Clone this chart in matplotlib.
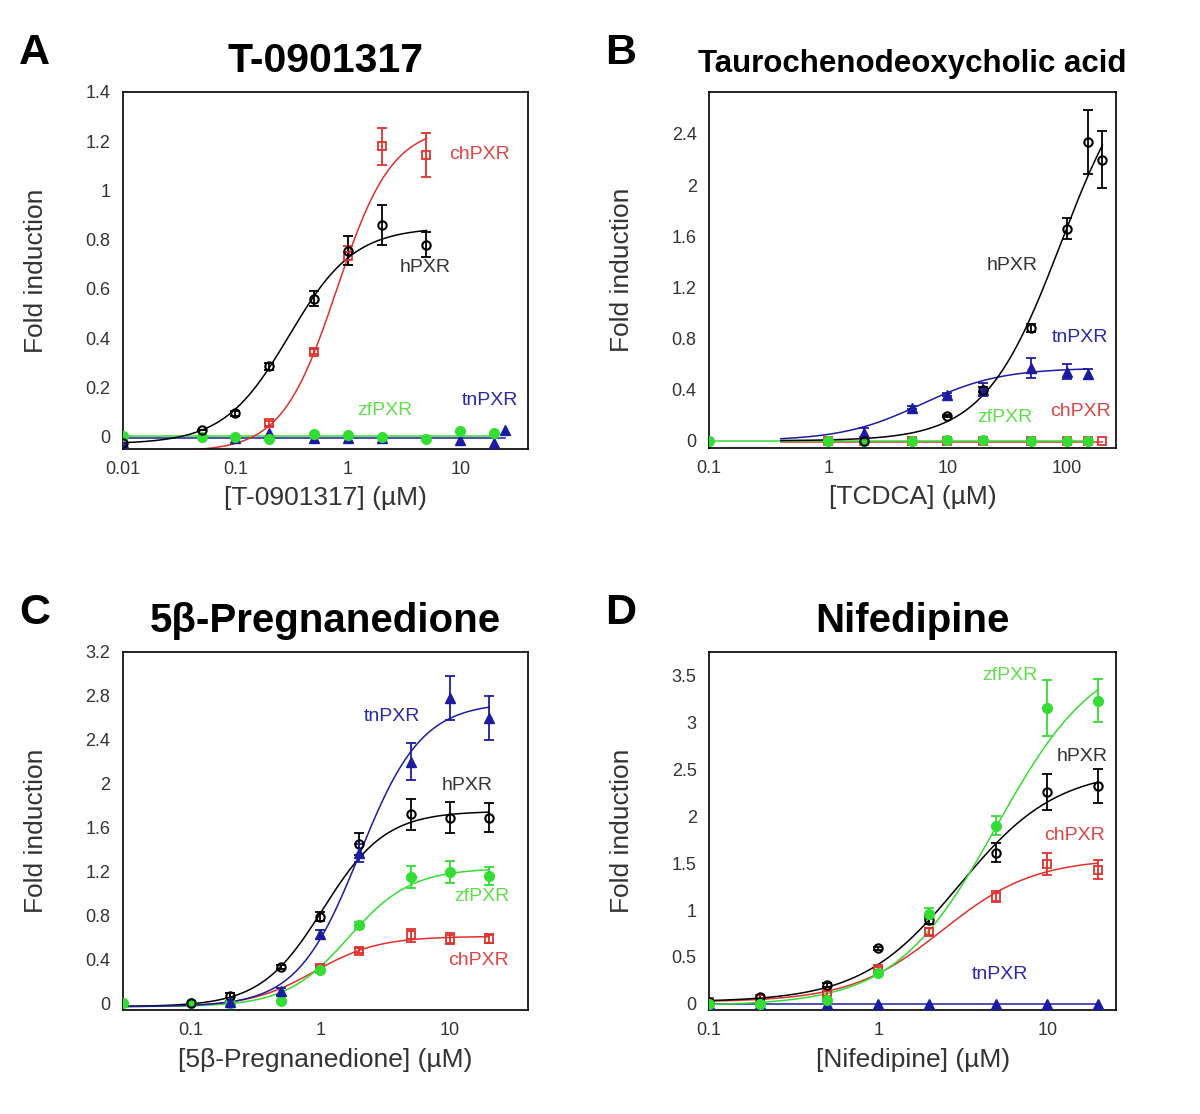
import numpy as np
import matplotlib
matplotlib.use('Agg')
from matplotlib import pyplot as plt
from matplotlib.ticker import FixedLocator, NullLocator

plt.rcParams['font.family'] = ['Liberation Sans', 'DejaVu Sans']

# colours for the four receptors
colors = {'hPXR': 'black', 'chPXR': '#e0302c', 'zfPXR': '#33dd33', 'tnPXR': '#1c1ca0'}
label_colors = {'hPXR': '#333333', 'chPXR': '#e04444', 'zfPXR': '#5fe04a', 'tnPXR': '#2a2aa8'}

# ---- panel A : T-0901317 ----
A_x_h = [0.01, 0.05, 0.1, 0.2, 0.5, 1, 2, 5]
A_h = [-0.025, 0.028, 0.095, 0.285, 0.56, 0.755, 0.86, 0.78]
A_h_err = [0, 0, 0.01, 0.015, 0.03, 0.06, 0.08, 0.05]
A_x_ch = [0.2, 0.5, 1, 2, 5]
A_ch = [0.055, 0.345, 0.735, 1.18, 1.145]
A_ch_err = [0.01, 0.01, 0.04, 0.075, 0.09]
A_x_zf = [0.01, 0.05, 0.1, 0.2, 0.5, 1, 2, 5, 10, 20]
A_zf = [0.004, -0.003, -0.003, -0.009, 0.012, 0.006, -0.003, -0.009, 0.021, 0.015]
A_x_tn = [0.01, 0.1, 0.2, 0.5, 1, 2, 10, 20, 25]
A_tn = [-0.025, -0.005, 0.015, -0.005, -0.005, -0.005, -0.012, -0.025, 0.028]

# ---- panel B : TCDCA ----
B_x_h = [2, 10, 20, 50, 100, 150, 200]
B_h = [0.0, 0.195, 0.4, 0.88, 1.66, 2.34, 2.2]
B_h_err = [0.01, 0.01, 0.02, 0.03, 0.08, 0.25, 0.22]
B_x_tn = [2, 5, 10, 20, 50, 100, 150]
B_tn = [0.06, 0.26, 0.36, 0.4, 0.57, 0.54, 0.52]
B_tn_err = [0.04, 0.01, 0.01, 0.05, 0.08, 0.06, 0.04]
B_x_zf = [0.1, 1, 2, 5, 10, 20, 50, 100, 150]
B_zf = [0.0, 0.0, 0.0, 0.0, 0.01, 0.01, 0.0, 0.0, 0.0]
B_x_ch = [1, 2, 5, 10, 20, 50, 100, 150, 200]
B_ch = [-0.005, -0.005, -0.005, -0.005, -0.005, -0.005, -0.005, 0.0, 0.0]

# ---- panel C : 5b-Pregnanedione ----
C_x_h = [0.1, 0.2, 0.5, 1, 2, 5, 10, 20]
C_h = [0.0, 0.07, 0.33, 0.79, 1.45, 1.72, 1.69, 1.69]
C_h_err = [0, 0.02, 0.02, 0.04, 0.1, 0.14, 0.14, 0.13]
C_x_tn = [0.2, 0.5, 1, 2, 5, 10, 20]
C_tn = [0.01, 0.11, 0.63, 1.37, 2.2, 2.78, 2.6]
C_tn_err = [0.01, 0.03, 0.04, 0.08, 0.17, 0.2, 0.2]
C_x_zf = [0.03, 0.1, 0.2, 0.5, 1, 2, 5, 10, 20]
C_zf = [0.0, 0.0, 0.0, 0.02, 0.3, 0.71, 1.15, 1.2, 1.16]
C_zf_err = [0, 0, 0, 0, 0.02, 0.03, 0.1, 0.1, 0.08]
C_x_ch = [1, 2, 5, 10, 20]
C_ch = [0.32, 0.48, 0.62, 0.59, 0.59]
C_ch_err = [0.02, 0.02, 0.06, 0.05, 0.04]

# ---- panel D : Nifedipine ----
D_x = [0.1, 0.2, 0.5, 1, 2, 5, 10, 20]
D_h = [0.025, 0.07, 0.2, 0.59, 0.89, 1.61, 2.26, 2.32]
D_h_err = [0, 0.02, 0.02, 0.02, 0.04, 0.1, 0.19, 0.18]
D_zf = [0.0, 0.0, 0.04, 0.33, 0.96, 1.9, 3.15, 3.23]
D_zf_err = [0, 0, 0.02, 0.03, 0.06, 0.1, 0.3, 0.23]
D_ch = [0.02, 0.05, 0.11, 0.37, 0.77, 1.14, 1.49, 1.43]
D_ch_err = [0, 0.01, 0.03, 0.02, 0.04, 0.06, 0.12, 0.1]
D_tn = [0, 0, 0, 0, 0, 0, 0, 0]

# fitted dose-response curves: bottom, top, EC50, hill slope, x from, x to
A_fits = {'hPXR': (-0.03, 0.85, 0.3, 1.5, 0.01, 5), 'chPXR': (-0.06, 1.26, 0.8, 1.77, 0.04, 5),
          'zfPXR': (0.003, 0.003, 1, 1, 0.01, 20), 'tnPXR': (-0.005, -0.005, 1, 1, 0.01, 25)}
B_fits = {'hPXR': (0, 3.1, 90, 1.35, 0.4, 200), 'tnPXR': (0, 0.57, 6, 1.3, 0.4, 150),
          'zfPXR': (0.002, 0.002, 1, 1, 0.1, 150), 'chPXR': (-0.008, -0.008, 1, 1, 0.4, 200)}
C_fits = {'hPXR': (-0.03, 1.75, 1.05, 1.8, 0.03, 20), 'tnPXR': (-0.03, 2.74, 2.0, 1.8, 0.03, 20),
          'zfPXR': (-0.03, 1.23, 1.65, 1.8, 0.03, 20), 'chPXR': (-0.03, 0.61, 0.9, 1.75, 0.03, 20)}
D_fits = {'hPXR': (0.02, 2.5, 3.0, 1.5, 0.1, 20), 'zfPXR': (-0.02, 3.8, 5, 1.45, 0.1, 20),
          'chPXR': (0.02, 1.55, 2.4, 1.6, 0.1, 20), 'tnPXR': (0, 0, 1, 1, 0.1, 20)}


def hill(x, bottom, top, ec50, n):
    return bottom + (top - bottom) / (1 + (ec50 / x) ** n)


def draw_series(ax, name, x, y, err, fit):
    c = colors[name]
    b, t, ec, n, x0, x1 = fit
    xs = np.logspace(np.log10(x0), np.log10(x1), 300)
    ax.plot(xs, hill(xs, b, t, ec, n), color=c, lw=1.1, zorder=2)
    if name == 'hPXR':
        mk = dict(marker='o', mfc='none', mec=c, ms=6, mew=1.5)
    elif name == 'chPXR':
        mk = dict(marker='s', mfc='none', mec=c, ms=6, mew=1.3)
    elif name == 'zfPXR':
        mk = dict(marker='o', mfc=c, mec=c, ms=7)
    else:
        mk = dict(marker='^', mfc=c, mec=c, ms=7)
    ax.errorbar(x, y, yerr=err, fmt='none', ecolor=c, elinewidth=1.3, capsize=3.5, capthick=1.3, zorder=3)
    ax.plot(x, y, ls='none', zorder=4, **mk)


def setup(ax, xlim, ylim, xticks, xticklabels, yticks, title, title_size, xlabel, letter):
    ax.set_xscale('log')
    ax.set_xlim(*xlim)
    ax.set_ylim(*ylim)
    ax.xaxis.set_major_locator(FixedLocator(xticks))
    ax.xaxis.set_minor_locator(NullLocator())
    ax.set_xticklabels(xticklabels)
    ax.set_yticks(yticks)
    ax.set_yticklabels(['{:g}'.format(v) for v in yticks])
    ax.tick_params(length=0, labelsize=13, labelcolor='#333333', pad=9)
    for s in ax.spines.values():
        s.set_linewidth(1.2)
    ax.set_title(title, fontsize=title_size, fontweight='bold', pad=14)
    ax.set_xlabel(xlabel, fontsize=19, color='#333333')
    ax.xaxis.set_label_coords(0.5, -0.105)
    ax.set_ylabel('Fold induction', fontsize=19, color='#333333')
    ax.yaxis.set_label_coords(-0.185, 0.5)
    ax.text(-0.257, 1.052, letter, transform=ax.transAxes, fontsize=31, fontweight='bold', va='bottom')


def put_labels(ax, positions):
    for name, (fx, fy) in positions.items():
        ax.text(fx, fy, name, transform=ax.transAxes, color=label_colors[name],
                fontsize=14, ha='center', va='center')


fig = plt.figure(figsize=(12, 11.14), dpi=100)
axA = fig.add_axes([0.1025, 0.597, 0.3375, 0.3205])
axB = fig.add_axes([0.591, 0.598, 0.339, 0.3196])
axC = fig.add_axes([0.1025, 0.0934, 0.3375, 0.3214])
axD = fig.add_axes([0.591, 0.0934, 0.339, 0.3214])

# A
draw_series(axA, 'tnPXR', A_x_tn, A_tn, None, A_fits['tnPXR'])
draw_series(axA, 'zfPXR', A_x_zf, A_zf, None, A_fits['zfPXR'])
draw_series(axA, 'chPXR', A_x_ch, A_ch, A_ch_err, A_fits['chPXR'])
draw_series(axA, 'hPXR', A_x_h, A_h, A_h_err, A_fits['hPXR'])
setup(axA, (0.01, 40), (-0.05, 1.4), [0.01, 0.1, 1, 10], ['0.01', '0.1', '1', '10'],
      [0, 0.2, 0.4, 0.6, 0.8, 1, 1.2, 1.4], 'T-0901317', 29.5, '[T-0901317] (\u00b5M)', 'A')
put_labels(axA, {'chPXR': (0.88, 0.824), 'hPXR': (0.746, 0.507), 'zfPXR': (0.647, 0.109),
                 'tnPXR': (0.906, 0.137)})

# B
draw_series(axB, 'chPXR', B_x_ch, B_ch, None, B_fits['chPXR'])
draw_series(axB, 'zfPXR', B_x_zf, B_zf, None, B_fits['zfPXR'])
draw_series(axB, 'tnPXR', B_x_tn, B_tn, B_tn_err, B_fits['tnPXR'])
draw_series(axB, 'hPXR', B_x_h, B_h, B_h_err, B_fits['hPXR'])
setup(axB, (0.1, 260), (-0.055, 2.73), [0.1, 1, 10, 100], ['0.1', '1', '10', '100'],
      [0, 0.4, 0.8, 1.2, 1.6, 2, 2.4], 'Taurochenodeoxycholic acid', 22.5, '[TCDCA] (\u00b5M)', 'B')
put_labels(axB, {'hPXR': (0.744, 0.511), 'tnPXR': (0.912, 0.309), 'zfPXR': (0.727, 0.084),
                 'chPXR': (0.912, 0.101)})

# C
draw_series(axC, 'chPXR', C_x_ch, C_ch, C_ch_err, C_fits['chPXR'])
draw_series(axC, 'zfPXR', C_x_zf, C_zf, C_zf_err, C_fits['zfPXR'])
draw_series(axC, 'hPXR', C_x_h, C_h, C_h_err, C_fits['hPXR'])
draw_series(axC, 'tnPXR', C_x_tn, C_tn, C_tn_err, C_fits['tnPXR'])
setup(axC, (0.03, 40), (-0.06, 3.2), [0.1, 1, 10], ['0.1', '1', '10'],
      [0, 0.4, 0.8, 1.2, 1.6, 2, 2.4, 2.8, 3.2], '5\u03b2-Pregnanedione', 29,
      '[5\u03b2-Pregnanedione] (\u00b5M)', 'C')
put_labels(axC, {'tnPXR': (0.664, 0.821), 'hPXR': (0.849, 0.626), 'zfPXR': (0.886, 0.318),
                 'chPXR': (0.877, 0.137)})

# D
draw_series(axD, 'tnPXR', D_x, D_tn, None, D_fits['tnPXR'])
draw_series(axD, 'chPXR', D_x, D_ch, D_ch_err, D_fits['chPXR'])
draw_series(axD, 'hPXR', D_x, D_h, D_h_err, D_fits['hPXR'])
draw_series(axD, 'zfPXR', D_x, D_zf, D_zf_err, D_fits['zfPXR'])
setup(axD, (0.1, 25.5), (-0.065, 3.75), [0.1, 1, 10], ['0.1', '1', '10'],
      [0, 0.5, 1, 1.5, 2, 2.5, 3, 3.5], 'Nifedipine', 29, '[Nifedipine] (\u00b5M)', 'D')
put_labels(axD, {'zfPXR': (0.74, 0.933), 'hPXR': (0.916, 0.707), 'chPXR': (0.899, 0.486),
                 'tnPXR': (0.715, 0.098)})

fig.savefig('out.png', dpi=100)
